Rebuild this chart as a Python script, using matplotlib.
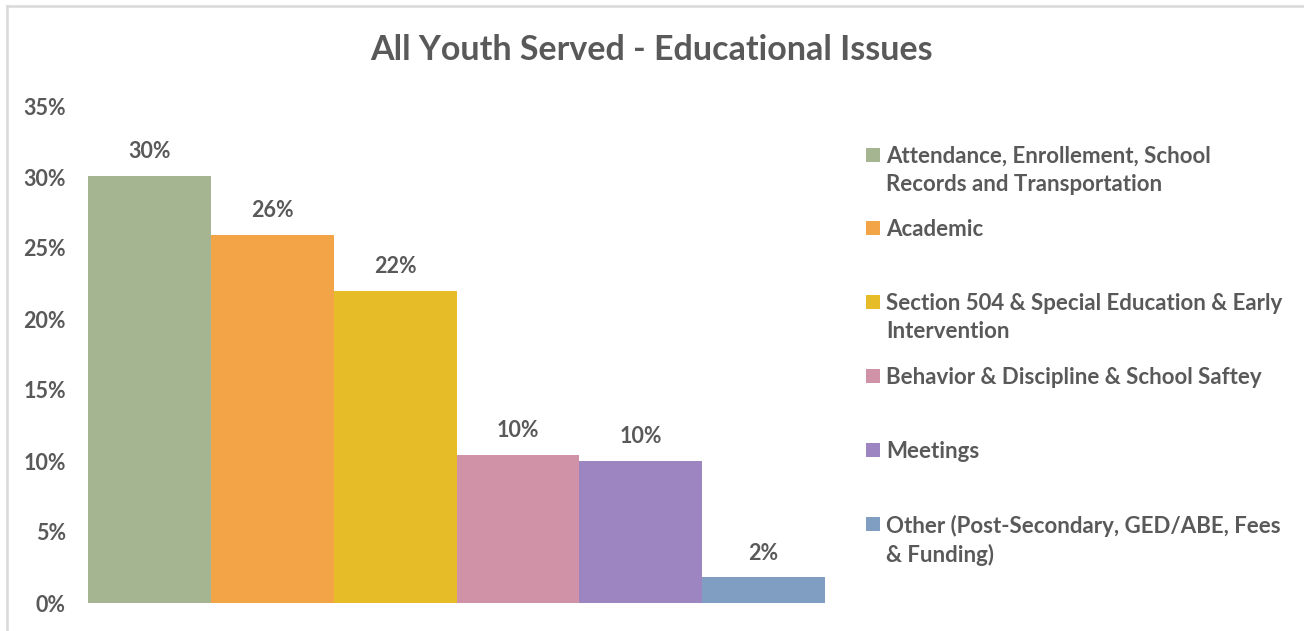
import matplotlib
matplotlib.use('Agg')
import matplotlib.pyplot as plt
from matplotlib.lines import Line2D
from matplotlib.patches import Rectangle
from matplotlib.ticker import FuncFormatter

plt.rcParams['font.family'] = ['Lato', 'DejaVu Sans']

TEXT_COLOR = '#595959'

categories = [
    'Attendance, Enrollement, School\nRecords and Transportation',
    'Academic',
    'Section 504 & Special Education & Early\nIntervention',
    'Behavior & Discipline & School Saftey',
    'Meetings',
    'Other (Post-Secondary, GED/ABE, Fees\n& Funding)',
]
shares = [0.301, 0.259, 0.220, 0.104, 0.100, 0.018]
colors = ['#A5B592', '#F3A447', '#E7BC29', '#D092A7', '#9C85C0', '#809EC2']
y_ticks = [0, 0.05, 0.10, 0.15, 0.20, 0.25, 0.30, 0.35]

W, H = 1304, 631
fig = plt.figure(figsize=(W / 100, H / 100), dpi=100)

# plot area placed in pixel terms
left, right, bottom, top = 88, 825, 603, 106
ax = fig.add_axes([left / W, 1 - bottom / H, (right - left) / W, (bottom - top) / H])

x = list(range(len(shares)))
bars = ax.bar(x, shares, width=1.0, color=colors, edgecolor='none')

for bar, val in zip(bars, shares):
    ax.annotate(f'{val:.0%}', (bar.get_x() + bar.get_width() / 2, val),
                xytext=(0, 10), textcoords='offset points',
                ha='center', va='bottom', fontsize=15.5,
                fontweight='bold', color=TEXT_COLOR)

ax.set_xlim(-0.5, len(shares) - 0.5)
ax.set_ylim(0, 0.35)
ax.set_yticks(y_ticks)
ax.yaxis.set_major_formatter(FuncFormatter(lambda v, _: f'{v:.0%}'))
ax.set_xticks([])
ax.tick_params(axis='y', length=0, pad=16, labelsize=15.5, labelcolor=TEXT_COLOR)
for lab in ax.get_yticklabels():
    lab.set_fontweight('bold')
for side in ax.spines.values():
    side.set_visible(False)

fig.text(0.5, 1 - 50 / H, 'All Youth Served - Educational Issues',
         ha='center', va='center', fontsize=24.5, fontweight='bold', color=TEXT_COLOR)

# legend drawn by hand so each key sits on the first line of its label
entry_y = [155, 228, 302, 376, 450, 524]
for label, color, yc in zip(categories, colors, entry_y):
    fig.patches.append(Rectangle((866 / W, 1 - (yc + 7) / H), 14 / W, 14 / H,
                                 transform=fig.transFigure, facecolor=color,
                                 edgecolor='none'))
    fig.text(886 / W, 1 - (yc - 9) / H, label, ha='left', va='top',
             fontsize=16, fontweight='bold', color=TEXT_COLOR, linespacing=1.4)

# outer frame (top and left edges visible)
frame = dict(color='#D9D9D9', linewidth=1.8, transform=fig.transFigure)
fig.lines.append(Line2D([7 / W, 7 / W], [0, 1 - 6 / H], **frame))
fig.lines.append(Line2D([7 / W, 1], [1 - 6 / H, 1 - 6 / H], **frame))

fig.savefig('out.png', dpi=100)
